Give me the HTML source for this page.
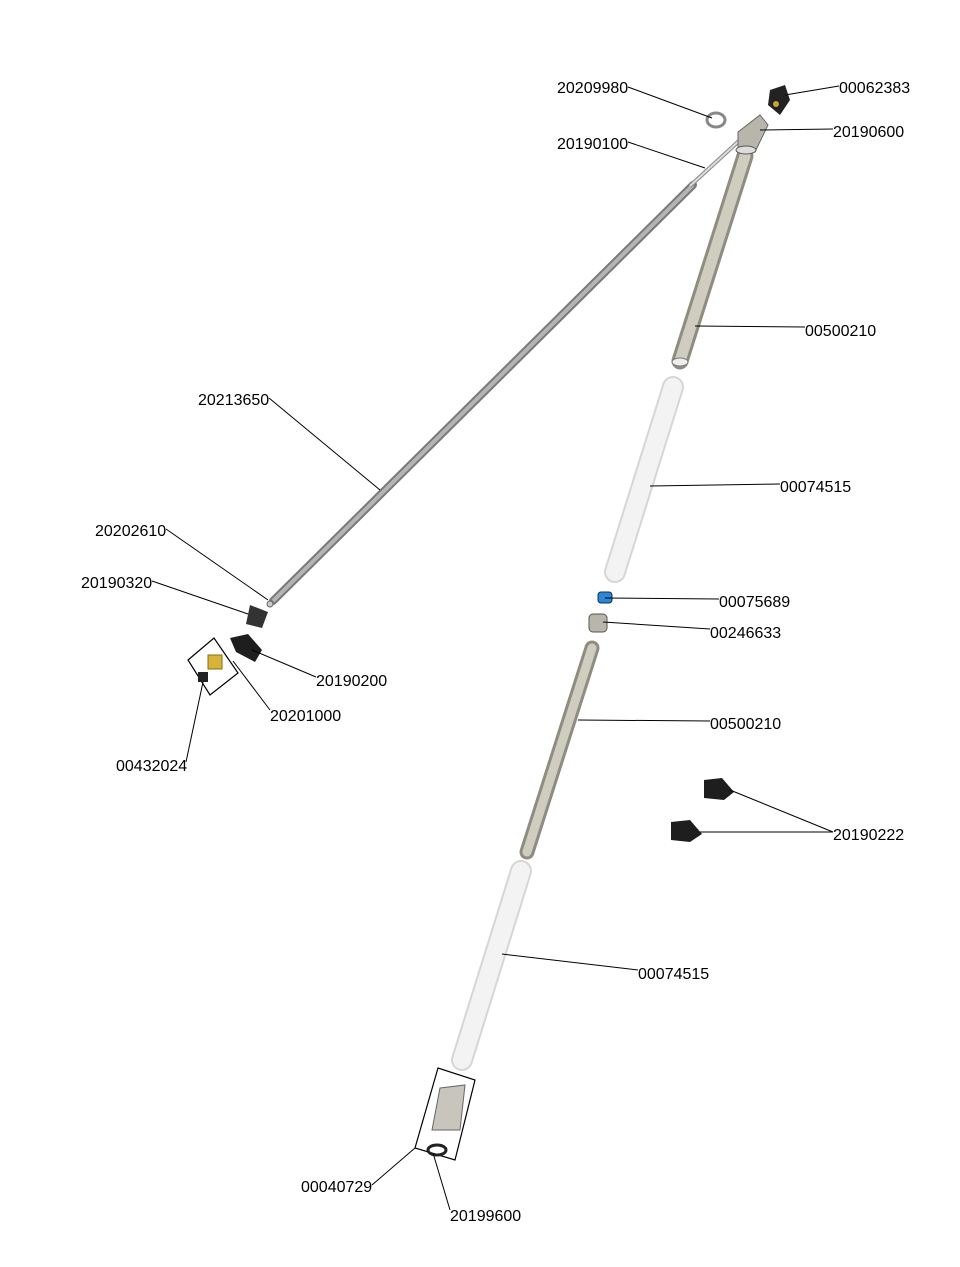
<!DOCTYPE html>
<html><head><meta charset="utf-8"><style>
html,body{margin:0;padding:0;background:#fff}
svg{display:block}
text{font-family:"Liberation Sans",sans-serif;font-size:16px;fill:#000}
</style></head><body>
<svg width="960" height="1267" viewBox="0 0 960 1267">
<!-- long thin rod -->
<line x1="693" y1="185" x2="273" y2="601" stroke="#7a7a7a" stroke-width="8" stroke-linecap="round"/>
<line x1="693" y1="185" x2="273" y2="601" stroke="#b4b4b4" stroke-width="4"/>
<line x1="740" y1="140" x2="690" y2="186" stroke="#888" stroke-width="4"/>
<line x1="740" y1="140" x2="690" y2="186" stroke="#ddd" stroke-width="2"/>
<!-- upper tube -->
<line x1="745" y1="156" x2="680" y2="361" stroke="#8f8c80" stroke-width="17" stroke-linecap="round"/>
<line x1="745" y1="156" x2="680" y2="361" stroke="#cfccc0" stroke-width="11" stroke-linecap="round"/>
<ellipse cx="680" cy="362" rx="8" ry="4" fill="#eee" stroke="#777"/>
<!-- transparent tube upper -->
<line x1="673" y1="387" x2="615" y2="572" stroke="#d6d6d6" stroke-width="22" stroke-linecap="round"/>
<line x1="673" y1="387" x2="615" y2="572" stroke="#f3f3f3" stroke-width="18" stroke-linecap="round"/>
<!-- top connector -->
<path d="M738 132 L760 115 L768 125 L755 152 L738 152 Z" fill="#b8b6aa" stroke="#666"/>
<ellipse cx="746" cy="150" rx="10" ry="4" fill="#ddd" stroke="#555"/>
<ellipse cx="716" cy="120" rx="9" ry="7" fill="none" stroke="#888" stroke-width="3"/>
<path d="M770 90 L785 85 L790 100 L780 115 L768 105 Z" fill="#222"/>
<circle cx="776" cy="104" r="3" fill="#c9a23a"/>
<!-- middle parts -->
<rect x="598" y="592" width="14" height="11" rx="3" fill="#2a86d6" stroke="#134"/>
<rect x="589" y="614" width="18" height="18" rx="4" fill="#b8b6aa" stroke="#555"/>
<!-- lower rod -->
<line x1="592" y1="648" x2="527" y2="852" stroke="#8f8c80" stroke-width="15" stroke-linecap="round"/>
<line x1="592" y1="648" x2="527" y2="852" stroke="#cfccc0" stroke-width="9" stroke-linecap="round"/>
<!-- lower transparent tube -->
<line x1="521" y1="871" x2="462" y2="1060" stroke="#d6d6d6" stroke-width="22" stroke-linecap="round"/>
<line x1="521" y1="871" x2="462" y2="1060" stroke="#f3f3f3" stroke-width="18" stroke-linecap="round"/>
<!-- clips -->
<path d="M704 780 L722 778 L734 792 L724 800 L704 798 Z" fill="#1e1e1e"/>
<path d="M671 822 L690 820 L702 834 L690 842 L671 840 Z" fill="#1e1e1e"/>
<!-- left lower parts -->
<path d="M250 605 L268 612 L262 628 L246 624 Z" fill="#333"/>
<circle cx="270" cy="604" r="3" fill="#ccc" stroke="#666"/>
<path d="M230 638 L248 634 L262 650 L255 662 L236 652 Z" fill="#1e1e1e"/>
<polygon points="188,660 214,638 238,673 210,695" fill="#fff" stroke="#000" stroke-width="1.2"/>
<rect x="208" y="655" width="14" height="14" fill="#d6b33a" stroke="#8a6d10"/>
<rect x="198" y="672" width="10" height="10" fill="#222"/>
<!-- bottom box -->
<polygon points="415,1148 438,1068 475,1080 455,1160" fill="#fff" stroke="#000" stroke-width="1.2"/>
<path d="M440 1088 L465 1085 L460 1130 L432 1130 Z" fill="#c8c6bc" stroke="#666"/>
<ellipse cx="437" cy="1150" rx="9" ry="5" fill="none" stroke="#222" stroke-width="3"/>
<!-- leader lines -->
<g stroke="#000" stroke-width="1" fill="none">
<line x1="628" y1="87" x2="712" y2="118"/>
<line x1="839" y1="86" x2="785" y2="95"/>
<line x1="628" y1="142" x2="705" y2="168"/>
<line x1="833" y1="129" x2="760" y2="130"/>
<line x1="805" y1="327" x2="695" y2="326"/>
<line x1="269" y1="398" x2="380" y2="490"/>
<line x1="780" y1="484" x2="650" y2="486"/>
<line x1="166" y1="529" x2="268" y2="600"/>
<line x1="152" y1="581" x2="248" y2="614"/>
<line x1="719" y1="599" x2="605" y2="598"/>
<line x1="710" y1="629" x2="603" y2="622"/>
<line x1="316" y1="677" x2="252" y2="650"/>
<line x1="270" y1="710" x2="233" y2="661"/>
<line x1="710" y1="721" x2="578" y2="720"/>
<line x1="186" y1="762" x2="203" y2="682"/>
<line x1="833" y1="832" x2="730" y2="790"/>
<line x1="833" y1="832" x2="700" y2="832"/>
<line x1="638" y1="970" x2="502" y2="954"/>
<line x1="372" y1="1185" x2="415" y2="1148"/>
<line x1="450" y1="1210" x2="433" y2="1153"/>
</g>
<text x="557" y="93">20209980</text>
<text x="839" y="93">00062383</text>
<text x="557" y="149">20190100</text>
<text x="833" y="137">20190600</text>
<text x="805" y="336">00500210</text>
<text x="198" y="405">20213650</text>
<text x="780" y="492">00074515</text>
<text x="95" y="536">20202610</text>
<text x="81" y="588">20190320</text>
<text x="719" y="607">00075689</text>
<text x="710" y="638">00246633</text>
<text x="316" y="686">20190200</text>
<text x="270" y="721">20201000</text>
<text x="710" y="729">00500210</text>
<text x="116" y="771">00432024</text>
<text x="833" y="840">20190222</text>
<text x="638" y="979">00074515</text>
<text x="301" y="1192">00040729</text>
<text x="450" y="1221">20199600</text>
</svg>
</body></html>
